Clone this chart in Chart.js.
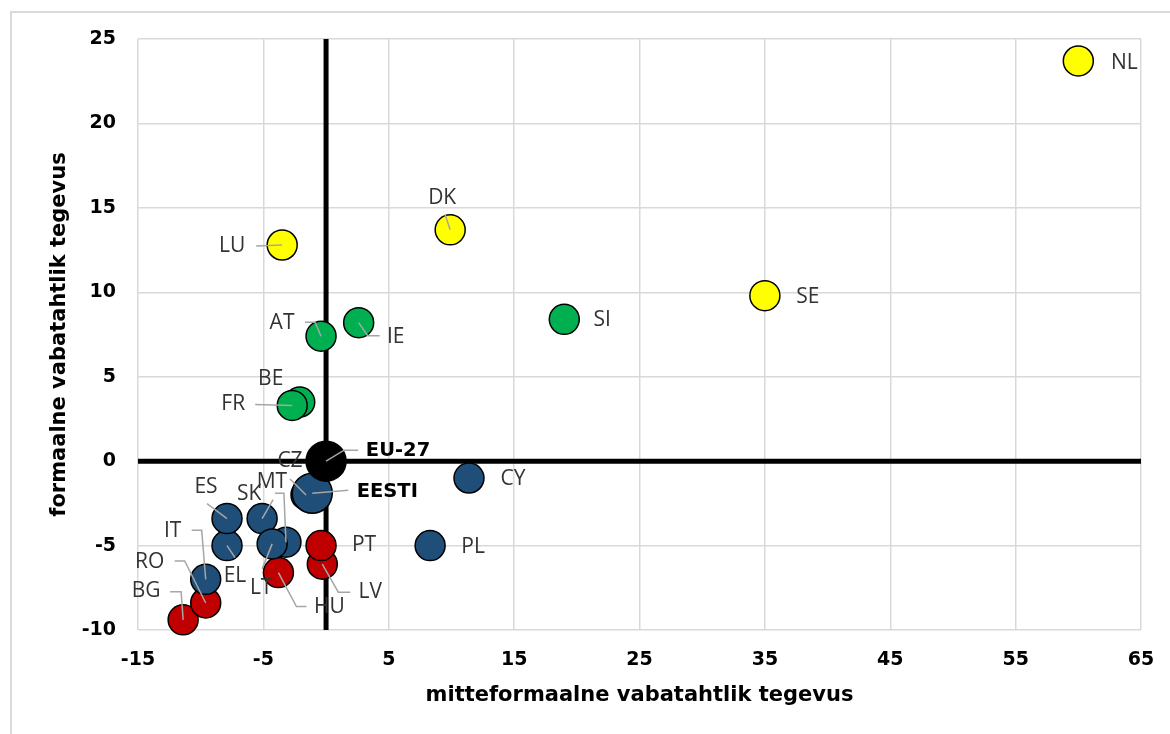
<!DOCTYPE html>
<html>
<head>
<meta charset="utf-8">
<script src="https://cdn.jsdelivr.net/npm/chart.js@4"></script>
<style>
  html, body { margin: 0; padding: 0; background: #fff; }
  #wrap { position: relative; width: 1170px; height: 734px; overflow: hidden; }
  #frame { position: absolute; left: 10px; top: 11px; width: 1300px; height: 900px; border: 2px solid #d9d9d9; }
  canvas { position: absolute; left: 0; top: 0; }
</style>
</head>
<body>
<div id="wrap">
  <div id="frame"></div>
  <canvas id="chart" width="1170" height="734"></canvas>
</div>
<script>
// Data
const countries = ['EU-27', 'NL', 'DK', 'LU', 'SE', 'SI', 'IE', 'AT', 'BE', 'FR',
  'CZ', 'EESTI', 'EL', 'ES', 'MT', 'SK', 'LT', 'IT', 'PL', 'CY',
  'BG', 'RO', 'LV', 'PT', 'HU'];
const mitteformaalne = [0, 60.0, 9.9, -3.5, 35.0, 19.0, 2.6, -0.4, -2.1, -2.7,
  -1.6, -1.1, -7.9, -7.9, -3.2, -5.1, -4.3, -9.6, 8.3, 11.4,
  -11.4, -9.6, -0.3, -0.4, -3.8];
const formaalne = [0, 23.7, 13.7, 12.8, 9.8, 8.4, 8.2, 7.4, 3.5, 3.3,
  -2.0, -1.9, -5.0, -3.4, -4.8, -3.4, -4.9, -7.0, -5.0, -1.0,
  -9.4, -8.4, -6.1, -5.0, -6.6];
const groups = ['eu', 'yellow', 'yellow', 'yellow', 'yellow', 'green', 'green', 'green', 'green', 'green',
  'blue', 'blue', 'blue', 'blue', 'blue', 'blue', 'blue', 'blue', 'blue', 'blue',
  'red', 'red', 'red', 'red', 'red'];
const xTickValues = [-15, -5, 5, 15, 25, 35, 45, 55, 65];
const yTickValues = [-10, -5, 0, 5, 10, 15, 20, 25];

const groupColors = { eu: '#000000', yellow: '#ffff00', green: '#00b050', blue: '#1f4e79', red: '#c00000' };
const bigPoints = ['EU-27', 'EESTI'];
const boldLabels = ['EU-27', 'EESTI'];

// label placement (pixel offsets from the point) and leader lines
const labelLayout = {
  'NL': { dx: 46, dy: 2 },
  'DK': { dx: -8, dy: -32, lead: [[-5, -15], [0, 0]] },
  'LU': { dx: -50, dy: 1, lead: [[-26, 1], [0, 0]] },
  'SE': { dx: 43, dy: 1 },
  'SI': { dx: 38, dy: 1 },
  'IE': { dx: 37, dy: 14, lead: [[0, 0], [9, 13], [21, 13]] },
  'AT': { dx: -39, dy: -13, lead: [[-16, -14], [-6, -14], [0, 0]] },
  'BE': { dx: -29, dy: -23 },
  'FR': { dx: -59, dy: -1, lead: [[-37, -1], [0, 0]] },
  'EU-27': { dx: 72, dy: -10, lead: [[0, 0], [18, -11], [32, -11]] },
  'CZ': { dx: -16, dy: -34, lead: [[-16, -16], [0, 0]] },
  'EESTI': { dx: 75, dy: -1, lead: [[0, 0], [36, -3]] },
  'MT': { dx: -14, dy: -60, lead: [[-11, -49], [-2, -49], [0, 0]] },
  'ES': { dx: -21, dy: -32, lead: [[-20, -15], [0, 0]] },
  'SK': { dx: -13, dy: -25, lead: [[11, -19], [0, 0]] },
  'EL': { dx: 8, dy: 30, lead: [[8, 12], [0, 0]] },
  'LT': { dx: -11, dy: 44, lead: [[-10, 25], [0, 0]] },
  'PT': { dx: 43, dy: -1 },
  'LV': { dx: 48, dy: 28, lead: [[0, 0], [16, 28], [28, 28]] },
  'HU': { dx: 51, dy: 34, lead: [[0, 0], [18, 34], [28, 34]] },
  'PL': { dx: 43, dy: 1 },
  'CY': { dx: 44, dy: 1 },
  'IT': { dx: -33, dy: -48, lead: [[-14, -49], [-4, -49], [0, 0]] },
  'RO': { dx: -56, dy: -41, lead: [[-31, -42], [-21, -42], [0, 0]] },
  'BG': { dx: -37, dy: -29, lead: [[-13, -28], [-2, -28], [0, 0]] }
};

const groupOrder = ['eu', 'yellow', 'green', 'blue', 'red'];
const datasets = groupOrder.map(g => {
  const idx = countries.map((c, i) => i).filter(i => groups[i] === g);
  return {
    label: g,
    data: idx.map(i => ({ x: mitteformaalne[i], y: formaalne[i], name: countries[i] })),
    backgroundColor: groupColors[g],
    borderColor: '#000000',
    borderWidth: 1.5,
    pointRadius: idx.map(i => bigPoints.includes(countries[i]) ? 20 : 15),
    pointHoverRadius: idx.map(i => bigPoints.includes(countries[i]) ? 20 : 15),
    clip: false
  };
});

// black lines through zero, under the points
const zeroLines = {
  id: 'zeroLines',
  beforeDatasetsDraw(chart) {
    const { ctx, chartArea, scales } = chart;
    const x0 = scales.x.getPixelForValue(0);
    const y0 = scales.y.getPixelForValue(0);
    ctx.save();
    ctx.strokeStyle = '#000';
    ctx.lineWidth = 5;
    ctx.beginPath();
    ctx.moveTo(x0, chartArea.top);
    ctx.lineTo(x0, chartArea.bottom);
    ctx.moveTo(chartArea.left, y0);
    ctx.lineTo(chartArea.right, y0);
    ctx.stroke();
    ctx.restore();
  }
};

// country labels with grey leader lines
const pointLabels = {
  id: 'pointLabels',
  afterDatasetsDraw(chart) {
    const { ctx, scales } = chart;
    ctx.save();
    chart.data.datasets.forEach(ds => {
      ds.data.forEach(p => {
        const lay = labelLayout[p.name];
        if (!lay) return;
        const px = scales.x.getPixelForValue(p.x);
        const py = scales.y.getPixelForValue(p.y);
        if (lay.lead) {
          ctx.strokeStyle = '#a6a6a6';
          ctx.lineWidth = 1.5;
          ctx.beginPath();
          lay.lead.forEach((q, k) => {
            if (k === 0) ctx.moveTo(px + q[0], py + q[1]);
            else ctx.lineTo(px + q[0], py + q[1]);
          });
          ctx.stroke();
        }
        const bold = boldLabels.includes(p.name);
        ctx.font = bold ? 'bold 19.5px "DejaVu Sans"' : '21px "Open Sans"';
        ctx.fillStyle = bold ? '#000' : '#333';
        ctx.textAlign = 'center';
        ctx.textBaseline = 'middle';
        ctx.fillText(p.name, px + lay.dx, py + lay.dy);
      });
    });
    ctx.restore();
  }
};

const tickFont = { family: '"DejaVu Sans"', size: 19, weight: 'bold' };
const titleFont = { family: '"DejaVu Sans"', size: 21, weight: 'bold' };

new Chart(document.getElementById('chart'), {
  type: 'scatter',
  data: { datasets: datasets },
  options: {
    responsive: false,
    animation: false,
    layout: { padding: { top: 39, right: 29, left: 0, bottom: 0 } },
    plugins: { legend: { display: false }, tooltip: { enabled: false } },
    scales: {
      x: {
        type: 'linear',
        min: -15,
        max: 65,
        afterBuildTicks: scale => { scale.ticks = xTickValues.map(v => ({ value: v })); },
        afterFit: scale => {
          scale.height = 104;
          scale.paddingLeft = 0;
          scale.paddingRight = 0;
        },
        grid: { color: '#d9d9d9', lineWidth: 1.5, drawTicks: false },
        border: { display: false },
        ticks: { font: tickFont, color: '#000', padding: 19, maxRotation: 0 },
        title: { display: true, text: 'mitteformaalne vabatahtlik tegevus', font: titleFont, color: '#000', padding: { top: 0, bottom: 26 } }
      },
      y: {
        type: 'linear',
        min: -10,
        max: 25,
        afterBuildTicks: scale => { scale.ticks = yTickValues.map(v => ({ value: v })); },
        afterFit: scale => {
          scale.width = 138;
          scale.paddingTop = 0;
          scale.paddingBottom = 0;
        },
        grid: { color: '#d9d9d9', lineWidth: 1.5, drawTicks: false },
        border: { display: false },
        ticks: { font: tickFont, color: '#000', padding: 22 },
        title: { display: true, text: 'formaalne vabatahtlik tegevus', font: titleFont, color: '#000', padding: { top: 47, bottom: 0 } }
      }
    }
  },
  plugins: [zeroLines, pointLabels]
});
</script>
</body>
</html>
